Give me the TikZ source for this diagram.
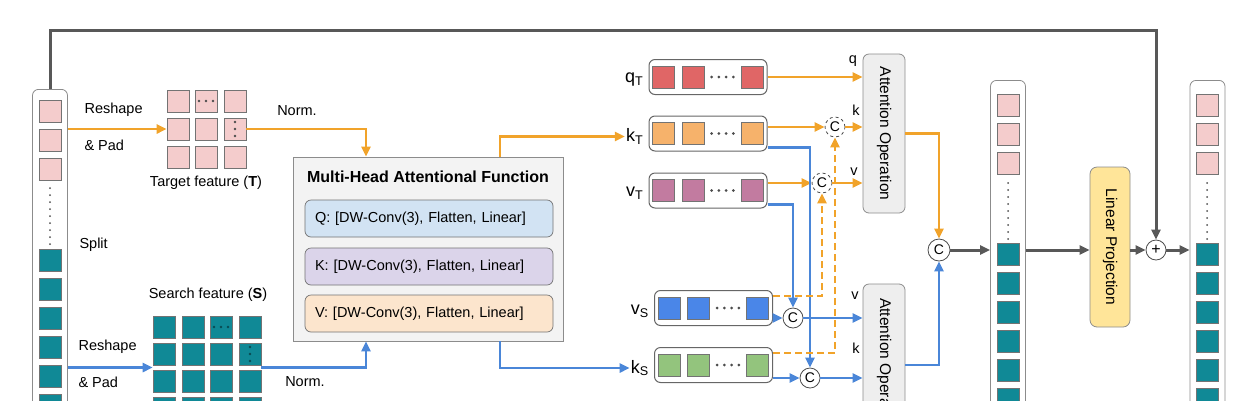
\documentclass[tikz,border=0pt]{standalone}
\usepackage{fontspec}
\setmainfont{Liberation Sans}
\usetikzlibrary{arrows.meta,calc,positioning}

\definecolor{corange}{RGB}{241,163,42}
\definecolor{cblue}{RGB}{74,134,216}
\definecolor{cgray}{RGB}{88,88,88}
\definecolor{cpink}{RGB}{244,204,204}
\definecolor{cteal}{RGB}{16,137,150}
\definecolor{cred}{RGB}{224,102,102}
\definecolor{corg}{RGB}{246,178,107}
\definecolor{cpur}{RGB}{194,123,160}
\definecolor{cblu}{RGB}{74,134,232}
\definecolor{cgrn}{RGB}{147,196,125}
\definecolor{cq}{RGB}{210,227,243}
\definecolor{ck}{RGB}{219,212,234}
\definecolor{cv}{RGB}{252,229,205}
\definecolor{cmh}{RGB}{243,243,243}
\definecolor{cao}{RGB}{238,238,238}
\definecolor{clp}{RGB}{255,229,153}

\begin{document}
\begin{tikzpicture}[x=1pt, y=-1pt, >={Triangle[length=10pt,width=9pt]},
  cell/.style={draw=black!55, line width=0.6pt, minimum width=22pt, minimum height=22pt, inner sep=0pt},
  colbox/.style={draw=black!45, rounded corners=6pt, line width=0.8pt, minimum width=35pt, minimum height=400pt, anchor=north},
  vbox/.style={draw=black!60, rounded corners=6pt, line width=1pt, fill=white, minimum width=118pt, minimum height=35pt},
  subbox/.style={draw=black!55, rounded corners=6pt, line width=0.7pt, text width=228pt, inner sep=10pt, minimum height=37pt, align=left, font=\fontsize{14.5}{17}\selectfont},
  aobox/.style={draw=black!45, fill=cao, rounded corners=6pt, line width=0.8pt, minimum width=42pt},
  ccirc/.style={circle, draw=black!70, fill=white, line width=0.8pt, minimum size=20pt, inner sep=0pt, font=\fontsize{14}{14}\selectfont},
  txt/.style={font=\fontsize{14.5}{17}\selectfont},
  vec/.style={font=\fontsize{18}{18}\selectfont, anchor=east, inner sep=1pt},
  oline/.style={draw=corange, line width=2.8pt},
  bline/.style={draw=cblue, line width=2.8pt},
  gline/.style={draw=cgray, line width=3pt},
  dots/.style={fill=black!70}]

\useasboundingbox (0,0) rectangle (1247,400);
\clip (0,0) rectangle (1247,400);

%Input tokens
\node[colbox] (inp) at (50,89) {};
\foreach \i/\y in {1/111,2/140,3/169} \node[cell, fill=cpink] (ip\i) at (50,\y) {};
\foreach \y in {188,195,...,244} \fill[dots] (50,\y) circle (1pt);
\foreach \i/\y in {1/260,2/289,3/318,4/347,5/376,6/405} \node[cell, fill=cteal] (it\i) at (50,\y) {};

%Target feature
\foreach \r/\y in {1/101,2/129,3/157}
  \foreach \c/\x in {1/178,2/206,3/235}
    \node[cell, fill=cpink] (t\r\c) at (\x,\y) {};
\foreach \d in {-7,0,7} \fill[dots] ($(t12)+(\d,0)$) circle (1.4pt);
\foreach \d in {-7,0,7} \fill[dots] ($(t23)+(0,\d)$) circle (1.4pt);
\node[txt] (tlab) at (206,183) {Target feature (\textbf{T})};

%Search feature
\foreach \r/\y in {1/327,2/354,3/381,4/408}
  \foreach \c/\x in {1/164,2/193,3/221,4/250}
    \node[cell, fill=cteal] (s\r\c) at (\x,\y) {};
\foreach \d in {-7,0,7} \fill[fill=black!45!cteal] ($(s13)+(\d,0)$) circle (1.3pt);
\foreach \d in {-7,0,7} \fill[fill=black!45!cteal] ($(s24)+(0,\d)$) circle (1.3pt);
\node[txt] (slab) at (208,295) {Search feature (\textbf{S})};
\coordinate (sin) at ($(s21.west)!0.5!(s31.west)$);
\coordinate (sout) at ($(s24.east)!0.5!(s34.east)$);

%Texts
\node[txt, anchor=west] (rs1) at (81,110) {Reshape};
\node[txt, anchor=west] (pd1) at (81,145) {\& Pad};
\node[txt, anchor=west] (spl) at (76,245) {Split};
\node[txt, anchor=west] (rs2) at (75,347) {Reshape};
\node[txt, anchor=west] (pd2) at (75,382) {\& Pad};
\node[txt] (nm1) at (297,111) {Norm.};
\node[txt] (nm2) at (305,382) {Norm.};

%Multi-head attentional function
\node[draw=black!45, fill=cmh, line width=0.8pt, minimum width=270pt, minimum height=184pt] (mhaf) at (428,249) {};
\node[font=\bfseries\fontsize{16}{18}\selectfont] (mtitle) at (428,177) {Multi-Head Attentional Function};
\node[subbox, fill=cq] (fq) at (429,218.5) {Q: [DW-Conv(3), Flatten, Linear]};
\node[subbox, fill=ck] (fk) at (429,266.5) {K: [DW-Conv(3), Flatten, Linear]};
\node[subbox, fill=cv] (fv) at (429,313.5) {V: [DW-Conv(3), Flatten, Linear]};

%Token vectors
\foreach \n/\x/\y/\c in {qT/708/77/cred, kT/708/133.5/corg, vT/708/190.5/cpur, vS/713.5/308/cblu, kS/713.5/365/cgrn}{
  \node[vbox] (\n) at (\x,\y) {};
  \node[cell, fill=\c] (\n1) at ([xshift=15pt]\n.west) {};
  \node[cell, fill=\c] (\n2) at ([xshift=44.5pt]\n.west) {};
  \node[cell, fill=\c] (\n3) at ([xshift=-15.5pt]\n.east) {};
  \foreach \d in {1,2,3,4} \fill[dots] ($(\n2.east)!{0.2*\d}!(\n3.west)$) circle (1.5pt);
}
\node[vec] (qTl) at ([xshift=-4pt,yshift=-3pt]qT.west) {q\textsubscript{T}};
\node[vec] (kTl) at ([xshift=-4pt,yshift=-3pt]kT.west) {k\textsubscript{T}};
\node[vec] (vTl) at ([xshift=-4pt,yshift=-3pt]vT.west) {v\textsubscript{T}};
\node[vec] (vSl) at ([xshift=-4pt,yshift=-3pt]vS.west) {v\textsubscript{S}};
\node[vec] (kSl) at ([xshift=-4pt,yshift=-3pt]kS.west) {k\textsubscript{S}};

%Attention operations
\node[aobox, minimum height=159pt] (aot) at (884,133.5) {};
\node[txt, rotate=-90, font=\fontsize{15.5}{17}\selectfont] at (aot) {Attention Operation};
\node[aobox, minimum height=162pt] (aob) at (884,365) {};
\node[txt, rotate=-90, font=\fontsize{15.5}{17}\selectfont] at (aob) {Attention Operation};
\node[txt] at (853,61) {q};
\node[txt] at (856,110) {k};
\node[txt] at (854,172) {v};
\node[txt] at (855,296) {v};
\node[txt] at (856,348) {k};

%Concat circles
\node[ccirc, dashed] (ck) at (835,127) {C};
\node[ccirc, dashed] (cv) at (822,183) {C};
\node[ccirc] (cvs) at (793,318) {C};
\node[ccirc] (cks) at (810,378) {C};
\node[ccirc, minimum size=22pt] (cc) at (939,250) {C};
\node[ccirc, font=\fontsize{16}{16}\selectfont] (plus) at (1156,250) {+};

%Output side
\node[colbox] (mid) at (1008,80) {};
\foreach \i/\y in {1/105,2/134,3/163} \node[cell, fill=cpink] (mp\i) at (1008,\y) {};
\foreach \y in {183,190,...,240} \fill[dots] (1008,\y) circle (1pt);
\foreach \i/\y in {1/254,2/283,3/312,4/341,5/370,6/399} \node[cell, fill=cteal] (mt\i) at (1008,\y) {};
\node[draw=black!45, fill=clp, rounded corners=7pt, line width=0.8pt, minimum width=40pt, minimum height=160pt] (lp) at (1110,247) {};
\node[rotate=-90, font=\fontsize{15.5}{17}\selectfont] at (lp) {Linear Projection};
\node[colbox] (out) at (1207.5,80) {};
\foreach \i/\y in {1/105,2/134,3/163} \node[cell, fill=cpink] (op\i) at (1207,\y) {};
\foreach \y in {183,190,...,240} \fill[dots] (1207,\y) circle (1pt);
\foreach \i/\y in {1/254,2/283,3/312,4/341,5/370,6/399} \node[cell, fill=cteal] (ot\i) at (1207,\y) {};

%Lines
\coordinate (top) at (0,30);
\draw[gline, ->] (inp.north) -- (inp.north |- top) -| (plus.north);

\draw[oline, ->] (inp.east |- t21) -- (t21.west);
\draw[oline, ->] (t23.east) -| ([xshift=-62pt]mhaf.north);
\draw[bline, ->] (inp.east |- sin) -- (sin);
\draw[bline, ->] (sout) -| ([xshift=-62pt]mhaf.south);

\draw[oline, ->] ([xshift=72pt]mhaf.north) |- (kTl.west);
\draw[bline, ->] ([xshift=72pt]mhaf.south) |- (kSl.west);

\draw[oline, ->] (qT.east) -- (qT.east -| aot.west);
\draw[oline, ->] (kT.east |- ck) -- (ck.west);
\draw[oline, ->] (ck.east) -- (ck -| aot.west);
\draw[oline, ->] (vT.east |- cv) -- (cv.west);
\draw[oline, ->] (cv.east) -- (cv -| aot.west);

\draw[bline, ->] ([yshift=4pt]kT.south east) -| (cks.north);
\draw[bline, ->] ([yshift=4pt]vT.south east) -| (cvs.north);
\draw[bline, ->] (vS.east |- cvs) -- (cvs.west);
\draw[bline, ->] (cvs.east) -- (cvs -| aob.west);
\draw[bline, ->] (kS.east |- cks) -- (cks.west);
\draw[bline, ->] (cks.east) -- (cks -| aob.west);

\draw[oline, dash pattern=on 7pt off 4pt, ->] ([yshift=-6pt]vS.north east) -| (cv.south);
\draw[oline, dash pattern=on 7pt off 4pt, ->] ([yshift=-6pt]kS.north east) -| (ck.south);

\draw[oline, ->] (aot.east) -| (cc.north);
\draw[bline, ->] (aob.east) -| (cc.south);
\draw[gline, ->] (cc.east) -- (mid.west |- cc);
\draw[gline, ->] (mid.east |- cc) -- (lp.west |- cc);
\draw[gline, ->] (lp.east |- plus) -- (plus.west);
\draw[gline, ->] (plus.east) -- (out.west |- plus);

\end{tikzpicture}
\end{document}
